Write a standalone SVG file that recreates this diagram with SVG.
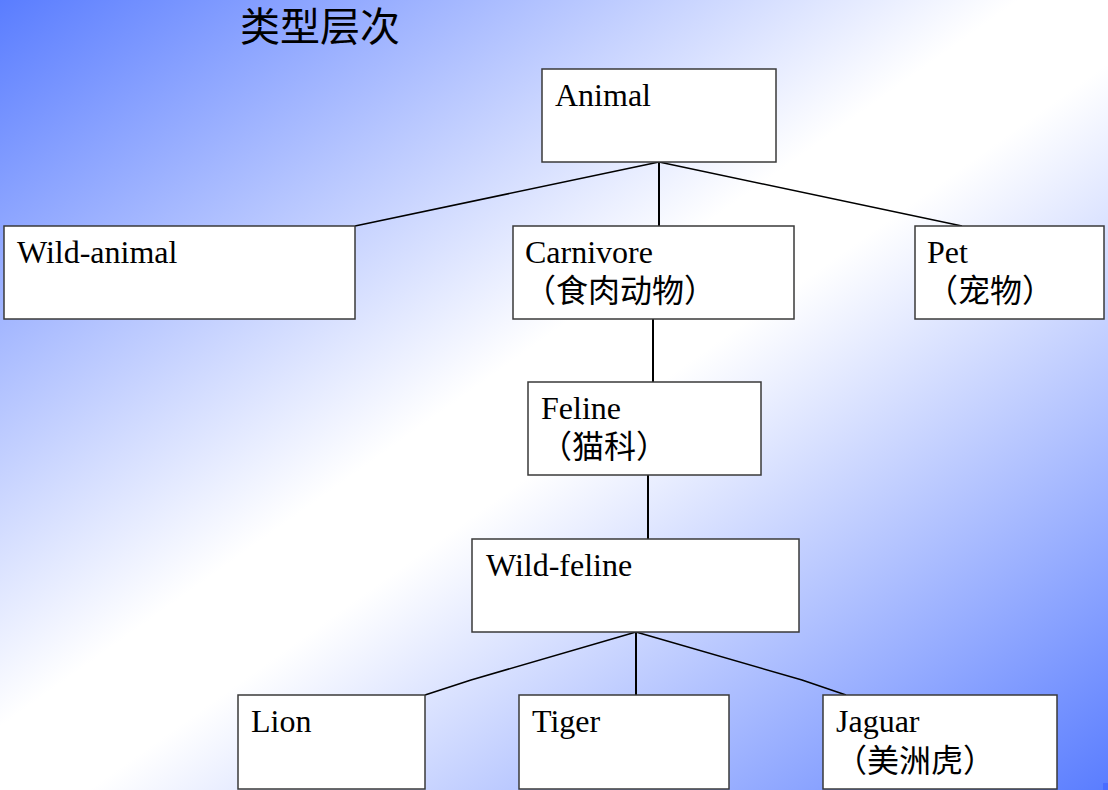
<svg xmlns="http://www.w3.org/2000/svg" width="1108" height="790" viewBox="0 0 1108 790">
<defs>
<linearGradient id="bg" x1="0" y1="0" x2="1" y2="1">
<stop offset="0" stop-color="#5a7dff"/>
<stop offset="0.46" stop-color="#ffffff"/>
<stop offset="0.54" stop-color="#ffffff"/>
<stop offset="1" stop-color="#5a7dff"/>
</linearGradient>
<style>
.box{fill:#ffffff;stroke:#3a3a3a;stroke-width:1.5}
.t{font-family:"Liberation Serif","Noto Sans CJK SC",serif;font-size:32px;fill:#000}
.c{font-family:"Noto Sans CJK SC",sans-serif;font-size:32px;fill:#000}
.ln{fill:none;stroke:#000;stroke-width:1.5}
.v{fill:none;stroke:#000;stroke-width:2}
</style>
</defs>
<rect x="0" y="0" width="1108" height="790" fill="url(#bg)"/>
<rect x="1103" y="783" width="5" height="7" fill="#4a6cff"/>
<text x="240" y="41" style="font-family:'Noto Sans CJK SC',sans-serif;font-size:40px;fill:#000">类型层次</text>
<g id="connectors">
<line class="ln" x1="659" y1="162" x2="355" y2="226"/>
<line class="v" x1="659" y1="162" x2="659" y2="226"/>
<line class="ln" x1="659" y1="162" x2="962" y2="226"/>
<line class="v" x1="653" y1="319" x2="653" y2="382"/>
<line class="v" x1="648" y1="475" x2="648" y2="539"/>
<polyline class="ln" points="636,632 471,680 425,695"/>
<line class="v" x1="636" y1="632" x2="636" y2="695"/>
<polyline class="ln" points="636,632 802,680 846,695"/>
</g>
<g id="animal"><rect class="box" x="542" y="69" width="234" height="93"/><text class="t" x="555" y="106">Animal</text></g>
<g id="wild-animal"><rect class="box" x="4" y="226" width="351" height="93"/><text class="t" x="17" y="263">Wild-animal</text></g>
<g id="carnivore"><rect class="box" x="513" y="226" width="281" height="93"/><text class="t" x="525" y="263">Carnivore</text><text class="c" x="524" y="302">（食肉动物）</text></g>
<g id="pet"><rect class="box" x="915" y="226" width="189" height="93"/><text class="t" x="927" y="263">Pet</text><text class="c" x="926" y="302">（宠物）</text></g>
<g id="feline"><rect class="box" x="528" y="382" width="233" height="93"/><text class="t" x="541" y="419">Feline</text><text class="c" x="540" y="458">（猫科）</text></g>
<g id="wild-feline"><rect class="box" x="472" y="539" width="327" height="93"/><text class="t" x="486" y="576">Wild-feline</text></g>
<g id="lion"><rect class="box" x="238" y="695" width="187" height="94"/><text class="t" x="251" y="732">Lion</text></g>
<g id="tiger"><rect class="box" x="519" y="695" width="210" height="94"/><text class="t" x="532" y="732">Tiger</text></g>
<g id="jaguar"><rect class="box" x="823" y="695" width="234" height="94"/><text class="t" x="836" y="732">Jaguar</text><text class="c" x="835" y="772">（美洲虎）</text></g>
</svg>
